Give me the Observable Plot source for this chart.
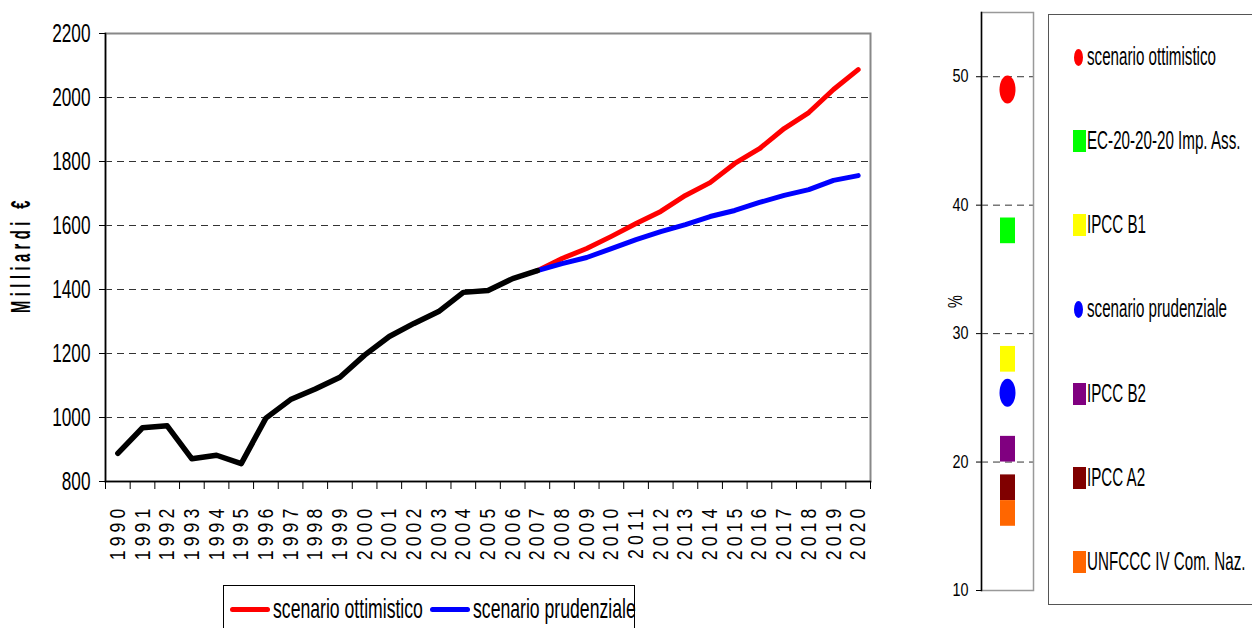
<!DOCTYPE html>
<html>
<head>
<meta charset="utf-8">
<script src="https://cdn.jsdelivr.net/npm/d3@7"></script>
<script src="https://cdn.jsdelivr.net/npm/@observablehq/plot@0.6"></script>
<style>
  body { margin: 0; background: #fff; }
  #page { position: relative; width: 1252px; height: 628px; overflow: hidden; background: #fff;
          font-family: "Liberation Sans", Arial, sans-serif; color: #000; }
  #main { position: absolute; left: 0; top: 0; }
  #side { position: absolute; left: 900px; top: 0; }
  #main svg, #side svg { font-family: "Liberation Sans", Arial, sans-serif; overflow: visible; }
  #main g[aria-label="y-axis tick label"] { font-size: 21px; }
  #main g[aria-label="x-axis tick label"] { font-size: 22px; letter-spacing: 5.2px; }
  #main g[aria-label="y-axis label"] { font-size: 18px; font-weight: bold; letter-spacing: 5.4px; }
  #side g[aria-label="y-axis tick label"] { font-size: 18px; }
  #side g[aria-label="y-axis label"] { font-size: 17px; }
  #legMain { position: absolute; left: 223px; top: 585px; width: 412px; height: 60px; border: 1px solid #000;
             box-sizing: border-box; }
  #legMain .sw { position: absolute; width: 40px; height: 5px; border-radius: 3px; top: 21px; }
  #legMain .tx { position: absolute; top: 10px; font-size: 21.5px; line-height: 26px; white-space: nowrap;
                 transform: scale(0.82, 1.25); transform-origin: left center; }
  #legSide { position: absolute; left: 1048px; top: 14px; width: 240px; height: 591px; border: 1px solid #555;
             box-sizing: border-box; display: flex; flex-direction: column; justify-content: space-around; }
  #legSide .item { display: flex; align-items: center; padding-left: 24px; height: 24px; }
  #legSide .mk { flex: none; }
  #legSide .tx { display: inline-block; font-size: 18.5px; white-space: nowrap;
                 transform: scale(0.82, 1.35); transform-origin: left center; }
</style>
</head>
<body>
<div id="page">
  <div id="main"></div>
  <div id="legMain"></div>
  <div id="side"></div>
  <div id="legSide"></div>
</div>
<script>
// ---------- data: main chart ----------
const years = [1990,1991,1992,1993,1994,1995,1996,1997,1998,1999,2000,2001,2002,2003,2004,2005,2006,2007,
               2008,2009,2010,2011,2012,2013,2014,2015,2016,2017,2018,2019,2020];
const storicoYears = [1990,1991,1992,1993,1994,1995,1996,1997,1998,1999,2000,2001,2002,2003,2004,2005,2006,2007];
const storico = [888,968,974,871,882,856,998,1056,1089,1126,1195,1253,1294,1331,1391,1397,1434,1459];
const scenarioYears = [2007,2008,2009,2010,2011,2012,2013,2014,2015,2016,2017,2018,2019,2020];
const ottimistico = [1459,1497,1528,1566,1606,1644,1694,1734,1794,1840,1903,1953,2025,2087];
const prudenziale = [1459,1481,1500,1528,1556,1581,1603,1628,1647,1672,1694,1712,1741,1756];
const yTicks = [800,1000,1200,1400,1600,1800,2000,2200];
const seriesNames = ["scenario ottimistico", "scenario prudenziale"];
const seriesColors = ["#ff0000", "#0000ff"];
const historyColor = "#000000";

// ---------- data: target panel ----------
const targetNames = ["scenario ottimistico","EC-20-20-20 Imp. Ass.","IPCC B1","scenario prudenziale","IPCC B2","IPCC A2","UNFCCC IV Com. Naz."];
const targetColors = ["#ff0000","#00ff00","#ffff00","#0000ff","#800080","#800000","#ff6600"];
const targetLow  = [49, 37, 27, 25.4, 20, 17, 15];
const targetHigh = [49, 39, 29, 25.4, 22, 19, 17];
const targetShape = ["ellipse","rect","rect","ellipse","rect","rect","rect"];
const pctTicks = [10,20,30,40,50];

// ---------- build tables ----------
const histData = storicoYears.map((y,i) => ({year: y, value: storico[i]}));
const ottData = scenarioYears.map((y,i) => ({year: y, value: ottimistico[i]}));
const prudData = scenarioYears.map((y,i) => ({year: y, value: prudenziale[i]}));
const bounds = years.map(y => y - 0.5).concat([years[years.length-1] + 0.5]);
const gridVals = yTicks.slice(1, -1);

function stretch(svg, label, extra) {
  d3.select(svg).selectAll(`g[aria-label="${label}"] text`).each(function() {
    const t = this.getAttribute("transform") || "";
    this.setAttribute("transform", t + " " + extra);
  });
}

const main = Plot.plot({
  width: 880, height: 570,
  marginLeft: 105, marginRight: 10, marginTop: 33, marginBottom: 89,
  x: {type: "linear", domain: [bounds[0], bounds[bounds.length-1]]},
  y: {domain: [yTicks[0], yTicks[yTicks.length-1]]},
  marks: [
    Plot.ruleY(gridVals, {stroke: "#333", strokeDasharray: "7,5", strokeWidth: 1}),
    Plot.frame({stroke: "#888", strokeWidth: 2}),
    Plot.frame({anchor: "left", stroke: "#000", strokeWidth: 1.5}),
    Plot.frame({anchor: "bottom", stroke: "#000", strokeWidth: 1.5}),
    Plot.line(ottData, {x: "year", y: "value", stroke: seriesColors[0], strokeWidth: 5, strokeLinejoin: "round", strokeLinecap: "round"}),
    Plot.line(prudData, {x: "year", y: "value", stroke: seriesColors[1], strokeWidth: 5, strokeLinejoin: "round", strokeLinecap: "round"}),
    Plot.line(histData, {x: "year", y: "value", stroke: historyColor, strokeWidth: 5.5, strokeLinejoin: "round", strokeLinecap: "round"}),
    Plot.axisY({ticks: yTicks, tickSize: 6, tickPadding: 9, tickFormat: d => String(d),
                label: "Milliardi €", labelAnchor: "center", labelArrow: "none", labelOffset: 95}),
    Plot.axisX({ticks: bounds, tickSize: 8, tickFormat: () => "", label: null}),
    Plot.axisX({ticks: years, tickSize: 0, tickPadding: 23, tickRotate: -90, tickFormat: d => String(d), label: null})
  ]
});
document.getElementById("main").appendChild(main);
stretch(main, "y-axis tick label", "scale(0.82,1.2)");
stretch(main, "x-axis tick label", "scale(0.8,1)");
stretch(main, "y-axis label", "translate(3,0) scale(0.82,1.5)");

// ---------- side panel ----------
const targets = targetNames.map((n,i) => ({name: n, color: targetColors[i], lo: targetLow[i], hi: targetHigh[i], shape: targetShape[i], cat: "2020"}));
const ellipse = {
  draw(ctx) {
    const rx = 8, ry = 14, k = 0.5523;
    ctx.moveTo(rx, 0);
    ctx.bezierCurveTo(rx, ry*k, rx*k, ry, 0, ry);
    ctx.bezierCurveTo(-rx*k, ry, -rx, ry*k, -rx, 0);
    ctx.bezierCurveTo(-rx, -ry*k, -rx*k, -ry, 0, -ry);
    ctx.bezierCurveTo(rx*k, -ry, rx, -ry*k, rx, 0);
    ctx.closePath();
  }
};
const side = Plot.plot({
  width: 145, height: 628,
  marginLeft: 81, marginRight: 12, marginTop: 12, marginBottom: 38,
  x: {type: "band", domain: ["2020"], padding: 0, axis: null},
  y: {domain: [pctTicks[0], 55]},
  color: {type: "identity"},
  marks: [
    Plot.ruleY(pctTicks.slice(1), {stroke: "#333", strokeDasharray: "7,5", strokeWidth: 1}),
    Plot.frame({stroke: "#999", strokeWidth: 1.5}),
    Plot.frame({anchor: "left", stroke: "#000", strokeWidth: 1.5}),
    Plot.barY(targets.filter(d => d.shape === "rect"), {x: "cat", y1: "lo", y2: "hi", fill: "color", insetLeft: 19, insetRight: 18}),
    Plot.dot(targets.filter(d => d.shape === "ellipse"), {x: "cat", y: "lo", fill: "color", symbol: ellipse, stroke: null}),
    Plot.axisY({ticks: pctTicks, tickSize: 5, tickPadding: 8, tickFormat: d => String(d),
                label: "%", labelAnchor: "center", labelArrow: "none", labelOffset: 34})
  ]
});
document.getElementById("side").appendChild(side);
stretch(side, "y-axis tick label", "scale(0.8,1)");
stretch(side, "y-axis label", "scale(0.85,1.2)");

// ---------- legends ----------
const lm = d3.select("#legMain");
let xPos = 6;
seriesNames.forEach((n,i) => {
  lm.append("div").attr("class", "sw").style("background", seriesColors[i]).style("left", xPos + "px");
  xPos += 43;
  const t = lm.append("span").attr("class", "tx").style("left", xPos + "px").text(n);
  xPos += t.node().offsetWidth * 0.82 + 7;
});
const ls = d3.select("#legSide");
targets.forEach(d => {
  const it = ls.append("div").attr("class", "item");
  if (d.shape === "ellipse") {
    it.append("div").attr("class", "mk").style("width", "9px").style("height", "17px").style("border-radius", "50%")
      .style("background", d.color).style("margin", "0 4px 0 1px");
  } else {
    it.append("div").attr("class", "mk").style("width", "13px").style("height", "22px").style("background", d.color).style("margin-right", "1px");
  }
  it.append("span").attr("class", "tx").text(d.name);
});
</script>
</body>
</html>
